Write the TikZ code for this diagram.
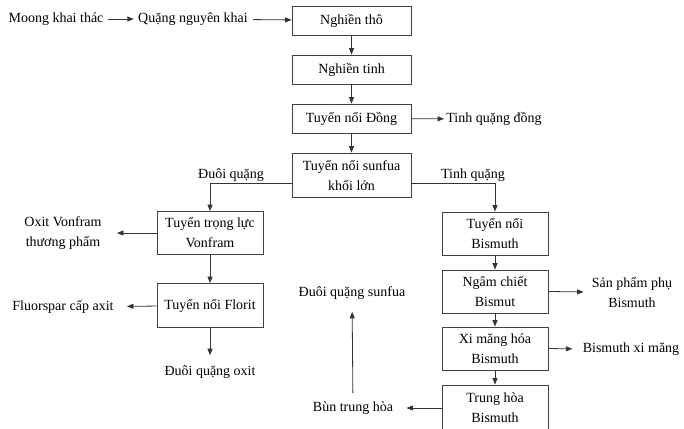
\documentclass[tikz,border=0pt]{standalone}
\usepackage{fontspec}
\setmainfont{Liberation Serif}
\usetikzlibrary{arrows.meta}

\begin{document}
\begin{tikzpicture}[x=1pt, y=-1pt, line width=0.8pt, draw=black!80,
  every node/.style={font=\fontsize{14}{20}\selectfont, align=center, inner sep=2pt},
  proc/.style={draw=black!75, minimum width=106pt, minimum height=43pt},
  wide/.style={proc, minimum width=119pt, minimum height=29pt},
  flow/.style={-{Triangle[length=6.5pt,width=5pt]}}]
\clip (0,0) rectangle (684,428);
\node[wide] (ngtho) at (351.5,20.5) {Nghiền thô};
\node[wide] (ngtinh) at (351.5,69.5) {Nghiền tinh};
\node[wide] (tndong) at (351.5,118.5) {Tuyển nổi Đồng};
\node[wide, minimum height=44pt] (tnsunfua) at (351.5,175) {Tuyển nổi sunfua\\khối lớn};
\node[proc] (ttvonfram) at (210,233) {Tuyển trọng lực\\Vonfram};
\node[proc, minimum height=44pt] (tnflorit) at (210,305.5) {Tuyển nổi Florit};
\node[proc] (tnbismuth) at (495,233.5) {Tuyển nổi\\Bismuth};
\node[proc] (ngam) at (495,291.5) {Ngâm chiết\\Bismut};
\node[proc] (ximang) at (495,348.5) {Xi măng hóa\\Bismuth};
\node[proc, minimum height=46pt] (trunghoa) at (495,408) {Trung hòa\\Bismuth};
\node (moong) at (56,19) {Moong khai thác};
\node (quang) at (193,19) {Quặng nguyên khai};
\node[anchor=west] (tqdong) at (444,119) {Tinh quặng đồng};
\node (oxit) at (63,233) {Oxit Vonfram\\thương phẩm};
\node (fluor) at (63,307) {Fluorspar cấp axit};
\node (duoioxit) at (210,372) {Đuôi quặng oxit};
\node (duoisunfua) at (352,293) {Đuôi quặng sunfua};
\node (bun) at (353,408) {Bùn trung hòa};
\node (spphu) at (632,292) {Sản phẩm phụ\\Bismuth};
\node (bixm) at (631,349) {Bismuth xi măng};
\node (lblduoi) at (231,175) {Đuôi quặng};
\node (lbltinh) at (473,175) {Tinh quặng};
\draw[flow, shorten <=2pt, shorten >=2pt] (moong) -- (quang);
\draw[flow, shorten <=3pt] (quang) -- (ngtho);
\draw[flow] (ngtho) -- (ngtinh);
\draw[flow] (ngtinh) -- (tndong);
\draw[flow] (tndong) -- (tnsunfua);
\draw[flow] (tndong) -- (tqdong);
\draw[flow] ([yshift=-8pt]tnsunfua.west) -| (ttvonfram.north);
\draw[flow] ([yshift=-8pt]tnsunfua.east) -| (tnbismuth.north);
\draw[flow, shorten >=13pt] (ttvonfram) -- (oxit);
\draw[flow] (ttvonfram) -- (tnflorit);
\draw[flow, shorten >=11pt] (tnflorit) -- (fluor);
\draw[flow, shorten >=8pt] (tnflorit) -- (duoioxit);
\draw[flow] (tnbismuth) -- (ngam);
\draw[flow] (ngam) -- (ximang);
\draw[flow] (ximang) -- (trunghoa);
\draw[flow, shorten >=6pt] (ngam.east) -- (spphu.west);
\draw[flow, shorten >=8pt] (ximang.east) -- (bixm.west);
\draw[flow, shorten >=11pt] (trunghoa) -- (bun);
\draw[flow, shorten <=6pt, shorten >=10pt] (bun) -- (duoisunfua);
\end{tikzpicture}
\end{document}
